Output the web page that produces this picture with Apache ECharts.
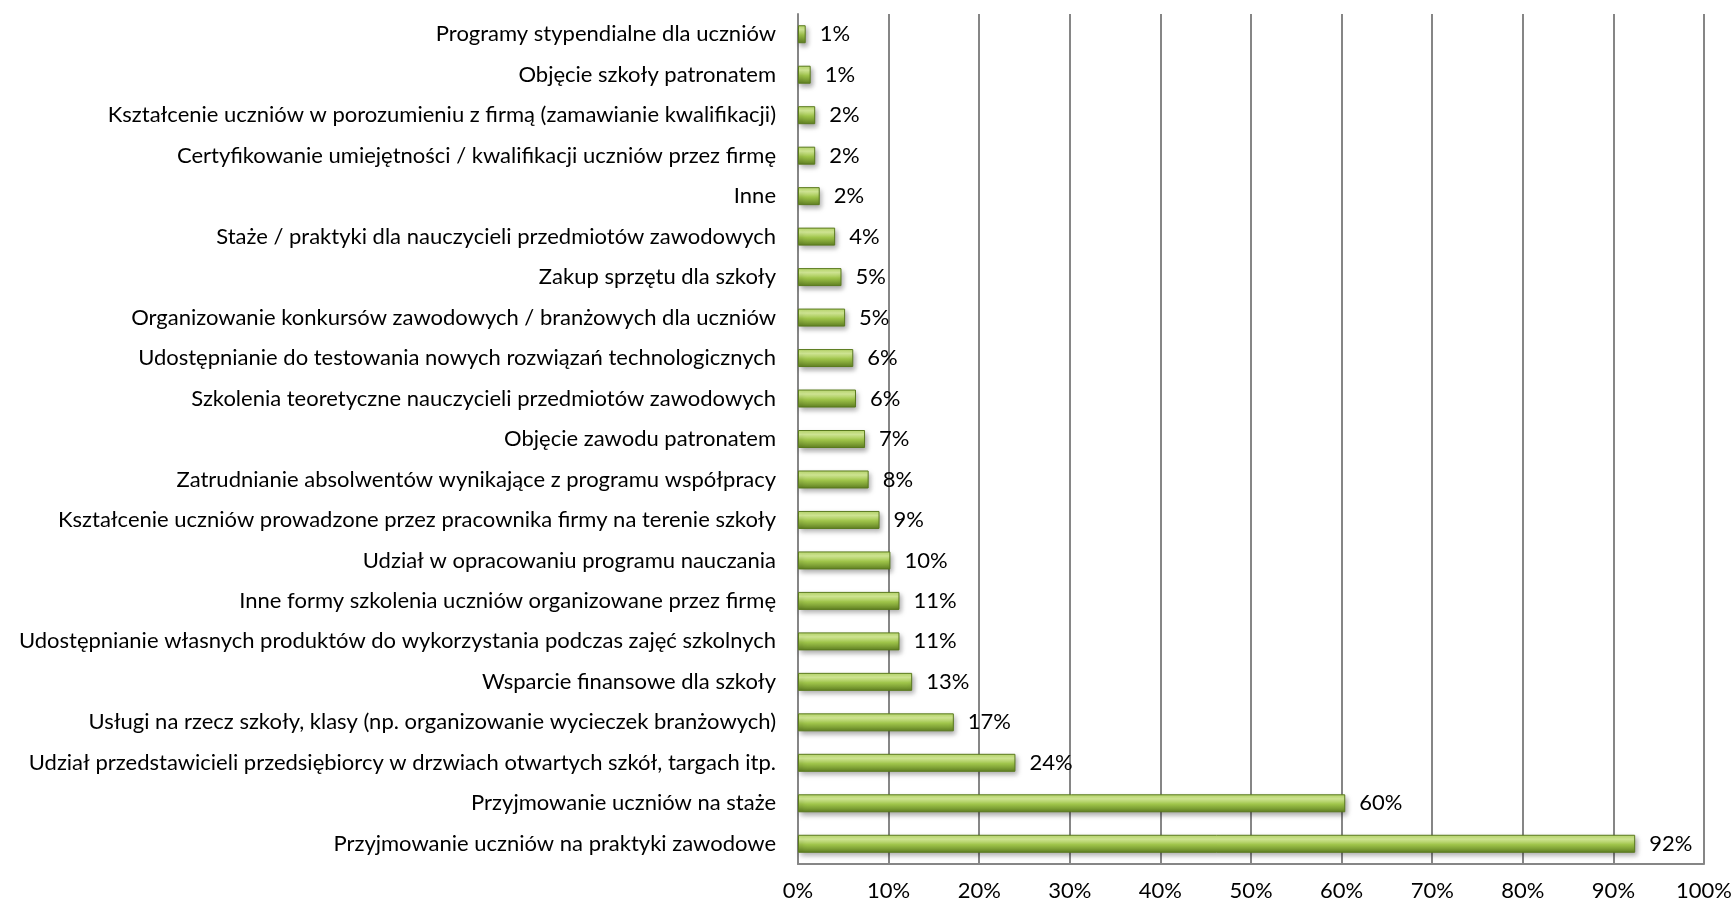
<html>
<head>
	<meta charset="utf-8">
	<script src="https://cdn.jsdelivr.net/npm/echarts@6/dist/echarts.min.js"></script>
	<style>
		body{margin:0;background:#fff;}
		#chart_1{width:1735px;height:906px;}
	</style>
</head>
<body>
<div id="chart_1"></div>
<script>
	// kategorie od góry do dołu
	var categories = [
		"Programy stypendialne dla uczniów",
		"Objęcie szkoły patronatem",
		"Kształcenie uczniów w porozumieniu z firmą (zamawianie kwalifikacji)",
		"Certyfikowanie umiejętności / kwalifikacji uczniów przez firmę",
		"Inne",
		"Staże / praktyki dla nauczycieli przedmiotów zawodowych",
		"Zakup sprzętu dla szkoły",
		"Organizowanie konkursów zawodowych / branżowych dla uczniów",
		"Udostępnianie do testowania nowych rozwiązań technologicznych",
		"Szkolenia teoretyczne nauczycieli przedmiotów zawodowych",
		"Objęcie zawodu patronatem",
		"Zatrudnianie absolwentów wynikające z programu współpracy",
		"Kształcenie uczniów prowadzone przez pracownika firmy na terenie szkoły",
		"Udział w opracowaniu programu nauczania",
		"Inne formy szkolenia uczniów organizowane przez firmę",
		"Udostępnianie własnych produktów do wykorzystania podczas zajęć szkolnych",
		"Wsparcie finansowe dla szkoły",
		"Usługi na rzecz szkoły, klasy (np. organizowanie wycieczek branżowych)",
		"Udział przedstawicieli przedsiębiorcy w drzwiach otwartych szkół, targach itp.",
		"Przyjmowanie uczniów na staże",
		"Przyjmowanie uczniów na praktyki zawodowe"
	];
	var values = [0.85, 1.4, 1.9, 1.9, 2.4, 4.1, 4.8, 5.2, 6.1, 6.4, 7.4, 7.8, 9.0, 10.2, 11.2, 11.2, 12.6, 17.2, 24.0, 60.4, 92.4];
	var xTicks = [0, 10, 20, 30, 40, 50, 60, 70, 80, 90, 100];

	var font = "Lato";
	var myChart = echarts.init(document.getElementById('chart_1'));
	var option = {
		animation: false,
		grid: { left: 798, right: 30, top: 14, bottom: 42, containLabel: false },
		xAxis: {
			type: 'value',
			min: xTicks[0],
			max: xTicks[xTicks.length - 1],
			interval: 10,
			axisLine: { show: true, lineStyle: { color: '#868686', width: 2 } },
			axisTick: { show: false },
			splitLine: { show: true, lineStyle: { color: '#868686', width: 2 } },
			axisLabel: { formatter: '{value}%', color: '#000', fontFamily: font, fontSize: 22, margin: 16 }
		},
		yAxis: {
			type: 'category',
			inverse: true,
			data: categories,
			axisLine: { show: true, lineStyle: { color: '#868686', width: 2 } },
			axisTick: { show: false },
			axisLabel: { color: '#000', fontFamily: font, fontSize: 22, margin: 22 }
		},
		series: [{
			type: 'bar',
			data: values,
			barWidth: 18,
			itemStyle: {
				color: new echarts.graphic.LinearGradient(0, 0, 0, 1, [
					{ offset: 0, color: '#b9d96a' },
					{ offset: 0.25, color: '#d9f09a' },
					{ offset: 0.55, color: '#9fc44a' },
					{ offset: 1, color: '#5f7f22' }
				]),
				borderColor: '#5a7a1e',
				borderWidth: 1,
				shadowColor: 'rgba(0,0,0,0.35)',
				shadowBlur: 5,
				shadowOffsetX: 2,
				shadowOffsetY: 3
			},
			label: {
				show: true,
				position: 'right',
				distance: 14,
				color: '#000',
				fontFamily: font,
				fontSize: 22,
				formatter: function (p) { return Math.round(p.value) + '%'; }
			}
		}]
	};
	myChart.setOption(option);
</script>
</body>
</html>
